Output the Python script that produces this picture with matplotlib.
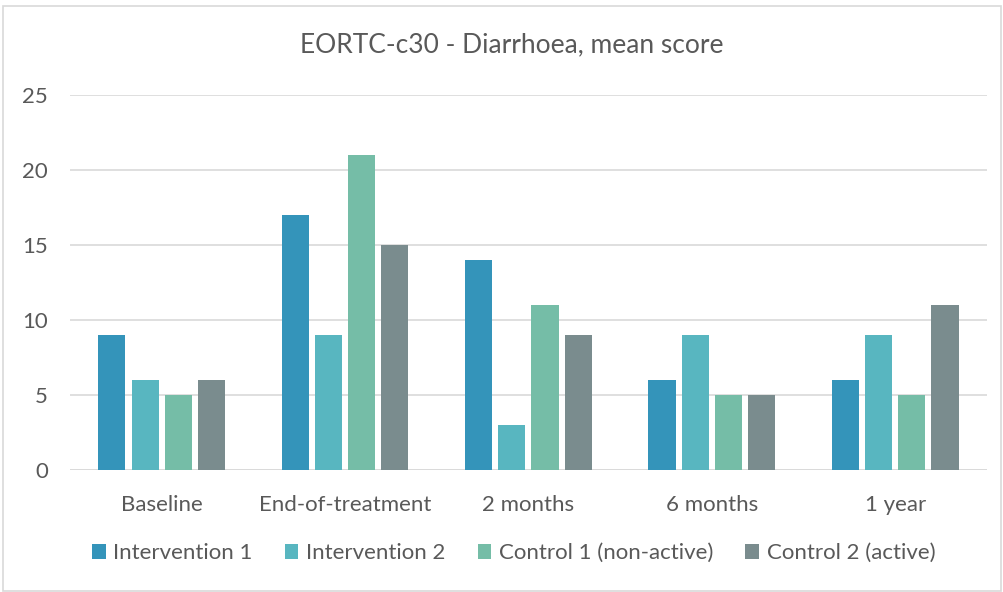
import numpy as np
import matplotlib
matplotlib.use("Agg")
from matplotlib import pyplot as plt
from matplotlib.patches import Rectangle

categories = ["Baseline", "End-of-treatment", "2 months", "6 months", "1 year"]
series_names = ["Intervention 1", "Intervention 2", "Control 1 (non-active)", "Control 2 (active)"]
intervention_1 = [9, 17, 14, 6, 6]
intervention_2 = [6, 9, 3, 9, 9]
control_1 = [5, 21, 11, 5, 5]
control_2 = [6, 15, 9, 5, 11]
colores = ["#3494BA", "#58B6C0", "#75BDA7", "#7A8C8E"]

plt.rcParams['font.family'] = ['Lato', 'DejaVu Sans']
gris = "#595959"

fig = plt.figure(figsize=(10.04, 5.92), dpi=100)
fig.patches.append(Rectangle((0.003, 0.002), 0.994, 0.988, transform=fig.transFigure,
                             fill=False, edgecolor="#d9d9d9", linewidth=1.2))
ax = fig.add_axes([0.0697, 0.206, 0.9133, 0.6335])

x = np.arange(len(categories))
paso = 0.181
ancho = 0.148
datos = [intervention_1, intervention_2, control_1, control_2]
for i, (vals, nombre) in enumerate(zip(datos, series_names)):
    ax.bar(x + (i - 1.5) * paso, vals, width=ancho, color=colores[i], label=nombre, zorder=3)

ax.set_xlim(-0.5, len(categories) - 0.5)
ax.set_ylim(0, 25)
ax.set_yticks(range(0, 26, 5))
ax.yaxis.grid(True, color="#d9d9d9", linewidth=1.2, zorder=0)
for s in ax.spines.values():
    s.set_visible(False)
ax.tick_params(length=0, labelsize=16, colors=gris)
ax.tick_params(axis="y", pad=16)
ax.tick_params(axis="x", pad=18)
ax.set_xticks(x)
ax.set_xticklabels(categories)
ax.axhline(0, color="#d9d9d9", linewidth=1.2, zorder=2)

fig.text(0.51, 0.924, "EORTC-c30 - Diarrhoea, mean score", ha="center", va="center",
         fontsize=19, color=gris)

ax.legend(loc="center", bbox_to_anchor=(0.484, -0.222), ncol=4, frameon=False,
          fontsize=16, labelcolor=gris, handlelength=0.6, handleheight=0.6,
          columnspacing=1.45, handletextpad=0.35)

fig.savefig("out.png", dpi=100)
